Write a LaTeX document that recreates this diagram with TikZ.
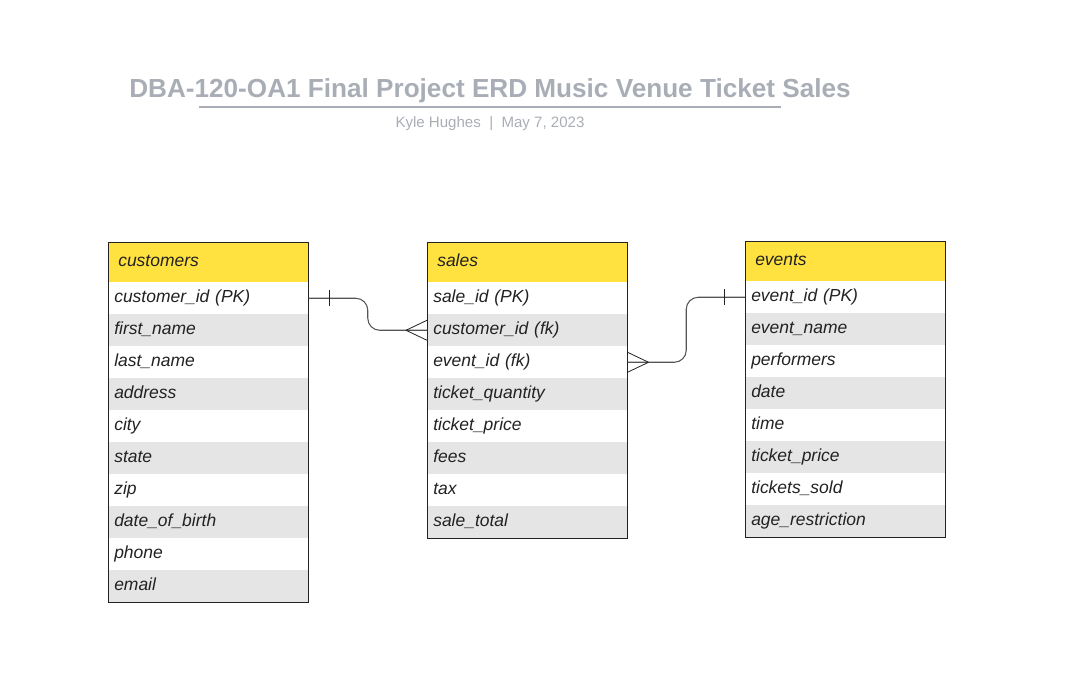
\documentclass[tikz,border=0pt]{standalone}
\usepackage{fontspec}
\setmainfont{Liberation Sans}
\usetikzlibrary{positioning,calc}
\definecolor{hdrfill}{RGB}{255,225,64}
\definecolor{rowgray}{RGB}{229,229,229}
\definecolor{titlegray}{RGB}{169,174,182}
\definecolor{inkdark}{RGB}{34,34,34}
\definecolor{linkgray}{RGB}{85,85,85}
\tikzset{
  row/.style={minimum width=150pt,minimum height=24pt,text width=141pt,inner xsep=4.5pt,inner ysep=0pt,
    text height=9.6pt,text depth=3.4pt,align=left,anchor=north west,
    font=\itshape\fontsize{13.1}{15}\selectfont,text=inkdark},
  hdr/.style={row,draw=inkdark,fill=hdrfill,minimum height=30pt,text width=135pt,inner xsep=7.5pt},
  frame/.style={draw=inkdark,line width=0.6pt},
  link/.style={draw=linkgray,line width=0.8pt,rounded corners=9pt},
  foot/.style={draw=inkdark,line width=0.6pt},
}
\begin{document}
\begin{tikzpicture}[x=0.75pt,y=-0.75pt]
  \useasboundingbox (0,0) rectangle (1065,689);
  % title block
  \node[font=\bfseries\fontsize{19.6}{22}\selectfont,text=titlegray] (title) at (490,91)
    {DBA-120-OA1 Final Project ERD Music Venue Ticket Sales};
  \draw[titlegray,line width=1.5pt] (199,107) -- (781,107);
  \node[font=\fontsize{11.3}{13}\selectfont,text=titlegray] (sub) at (490,124)
    {Kyle Hughes\ \ |\ \ May 7, 2023};

  % customers
  \node[hdr] (cust-0) at (108,242) {customers};
  \foreach \t [count=\i, evaluate=\i as \shade using {int((1-mod(\i,2))*100)}] in
    {customer\_id (PK),first\_name,last\_name,address,city,state,zip,date\_of\_birth,phone,email}
    \node[row,fill=rowgray!\shade] (cust-\i) at (108,250+32*\i) {\t};
  \draw[frame] (cust-0.north west) rectangle (cust-10.south east);

  % sales
  \node[hdr] (sale-0) at (427,242) {sales};
  \foreach \t [count=\i, evaluate=\i as \shade using {int((1-mod(\i,2))*100)}] in
    {sale\_id (PK),customer\_id (fk),event\_id (fk),ticket\_quantity,ticket\_price,fees,tax,sale\_total}
    \node[row,fill=rowgray!\shade] (sale-\i) at (427,250+32*\i) {\t};
  \draw[frame] (sale-0.north west) rectangle (sale-8.south east);

  % events
  \node[hdr] (evt-0) at (745,241) {events};
  \foreach \t [count=\i, evaluate=\i as \shade using {int((1-mod(\i,2))*100)}] in
    {event\_id (PK),event\_name,performers,date,time,ticket\_price,tickets\_sold,age\_restriction}
    \node[row,fill=rowgray!\shade] (evt-\i) at (745,249+32*\i) {\t};
  \draw[frame] (evt-0.north west) rectangle (evt-8.south east);

  % customers 1 -- many sales
  \coordinate (m1) at ($(cust-1.east)!0.5!(sale-2.west)$);
  \draw[link] (cust-1.east) -- (cust-1.east -| m1) -- (m1 |- sale-2.west) -- (sale-2.west);
  \draw[foot] ($(cust-1.east)+(21,-8)$) -- ($(cust-1.east)+(21,8)$);
  \draw[foot] ($(sale-2.west)+(-21,0)$) -- ($(sale-2.west)+(0,-10)$)
    ($(sale-2.west)+(-21,0)$) -- ($(sale-2.west)+(0,10)$);

  % events 1 -- many sales
  \coordinate (m2) at ($(sale-3.east)!0.5!(evt-1.west)$);
  \draw[link] (sale-3.east) -- (sale-3.east -| m2) -- (m2 |- evt-1.west) -- (evt-1.west);
  \draw[foot] ($(evt-1.west)+(-21,-8)$) -- ($(evt-1.west)+(-21,8)$);
  \draw[foot] ($(sale-3.east)+(21,0)$) -- ($(sale-3.east)+(0,-10)$)
    ($(sale-3.east)+(21,0)$) -- ($(sale-3.east)+(0,10)$);
\end{tikzpicture}
\end{document}
